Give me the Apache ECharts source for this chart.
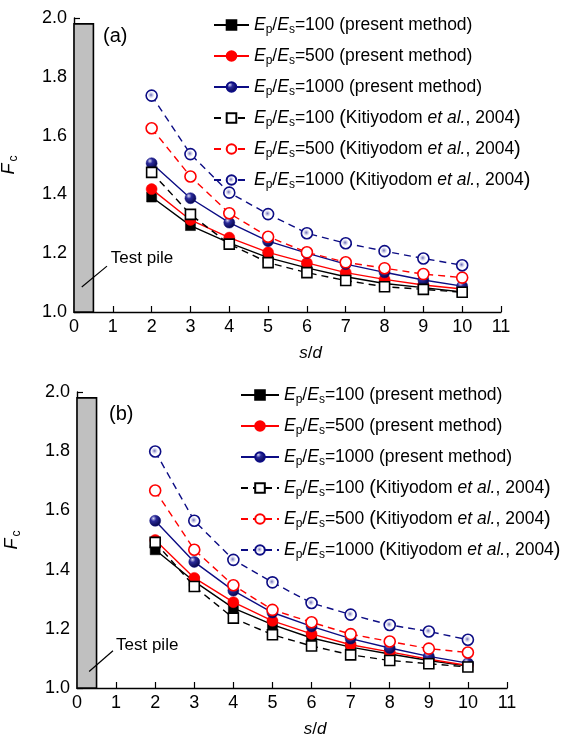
<!DOCTYPE html>
<html>
<head>
<meta charset="utf-8">
<script src="https://cdn.jsdelivr.net/npm/echarts@6/dist/echarts.min.js"></script>
<style>
  html, body { margin: 0; padding: 0; background: #fff; }
  #chart { width: 561px; height: 738px; }
</style>
</head>
<body>
<div id="chart"></div>
<script>
// s/d values
var sd = [2, 3, 4, 5, 6, 7, 8, 9, 10];
var xTicks = [0, 1, 2, 3, 4, 5, 6, 7, 8, 9, 10, 11];
var yTicks = ['1.0', '1.2', '1.4', '1.6', '1.8', '2.0'];

// panel (a)
var pm100a  = [1.391, 1.294, 1.235, 1.185, 1.150, 1.120, 1.097, 1.083, 1.068];
var pm500a  = [1.418, 1.313, 1.253, 1.203, 1.167, 1.134, 1.111, 1.092, 1.078];
var pm1000a = [1.506, 1.387, 1.304, 1.241, 1.200, 1.163, 1.135, 1.109, 1.088];
var k100a   = [1.475, 1.332, 1.231, 1.168, 1.134, 1.107, 1.086, 1.077, 1.067];
var k500a   = [1.625, 1.461, 1.336, 1.256, 1.203, 1.169, 1.149, 1.129, 1.117];
var k1000a  = [1.736, 1.537, 1.406, 1.333, 1.268, 1.234, 1.207, 1.182, 1.159];

// panel (b)
var pm100b  = [1.467, 1.360, 1.270, 1.214, 1.169, 1.138, 1.115, 1.093, 1.074];
var pm500b  = [1.500, 1.372, 1.290, 1.227, 1.183, 1.146, 1.122, 1.097, 1.076];
var pm1000b = [1.565, 1.426, 1.329, 1.255, 1.208, 1.167, 1.135, 1.107, 1.084];
var k100b   = [1.492, 1.343, 1.236, 1.180, 1.142, 1.112, 1.093, 1.082, 1.071];
var k500b   = [1.667, 1.467, 1.347, 1.264, 1.222, 1.182, 1.157, 1.133, 1.120];
var k1000b  = [1.799, 1.565, 1.433, 1.357, 1.287, 1.248, 1.213, 1.191, 1.163];

var legendLabels = [
  '{i|E}{sub|p}/{i|E}{sub|s}=100 (present method)',
  '{i|E}{sub|p}/{i|E}{sub|s}=500 (present method)',
  '{i|E}{sub|p}/{i|E}{sub|s}=1000 (present method)',
  '{i|E}{sub|p}/{i|E}{sub|s}=100 {p|(}Kitiyodom {i|et al.}, 2004{p|)}',
  '{i|E}{sub|p}/{i|E}{sub|s}=500 {p|(}Kitiyodom {i|et al.}, 2004{p|)}',
  '{i|E}{sub|p}/{i|E}{sub|s}=1000 {p|(}Kitiyodom {i|et al.}, 2004{p|)}'
];

// test pile box and arrow/label positions (data coords)
var pileBox = [[0, 1.0], [0.5, 1.98]];
var arrowA = [[0.2, 1.085], [0.85, 1.156]];
var labelA = [0.82, 1.184];
var arrowB = [[0.31, 1.056], [0.92, 1.126]];
var labelB = [0.87, 1.143];

var FONT = 'Liberation Sans, Arial, sans-serif';
var BLUE = '#0c0c84';

var ballFill = new echarts.graphic.RadialGradient(0.35, 0.3, 0.7, [
  { offset: 0, color: '#d8d8f4' },
  { offset: 0.35, color: '#2a2a9a' },
  { offset: 1, color: '#05054a' }
]);
var hollowBall = new echarts.graphic.RadialGradient(0.45, 0.45, 0.5, [
  { offset: 0, color: '#7070b8' },
  { offset: 0.3, color: '#d0d0ec' },
  { offset: 0.55, color: '#ffffff' },
  { offset: 1, color: '#ffffff' }
]);

function pts(arr) {
  return arr.map(function (v, i) { return [sd[i], v]; });
}

var styles = [
  { color: '#000', dash: 'solid', symbol: 'rect', size: 10, fill: '#000' },
  { color: '#ff0000', dash: 'solid', symbol: 'circle', size: 11, fill: '#ff0000' },
  { color: BLUE, dash: 'solid', symbol: 'circle', size: 11, fill: ballFill },
  { color: '#000', dash: [7, 5], symbol: 'rect', size: 10, fill: '#fff' },
  { color: '#ff0000', dash: [7, 5], symbol: 'circle', size: 11, fill: '#fff' },
  { color: BLUE, dash: [7, 5], symbol: 'circle', size: 11, fill: hollowBall }
];

function makeSeries(prefix, gi, arrays, arrow, label) {
  return arrays.map(function (arr, k) {
    var st = styles[k];
    var s = {
      name: prefix + k,
      type: 'line',
      xAxisIndex: gi,
      yAxisIndex: gi,
      data: pts(arr),
      symbol: st.symbol,
      symbolSize: st.size,
      showAllSymbol: true,
      animation: false,
      z: 3 + k,
      lineStyle: { color: st.color, width: 1.4, type: st.dash },
      itemStyle: {
        color: st.fill,
        borderColor: st.color,
        borderWidth: k >= 3 ? 1.6 : 0.5
      }
    };
    if (k === 0) {
      s.markArea = {
        silent: true,
        itemStyle: { color: '#c0c0c0', borderColor: '#000', borderWidth: 1.6 },
        data: [[{ coord: pileBox[0] }, { coord: pileBox[1] }]]
      };
      s.markLine = {
        silent: true,
        symbol: ['none', 'arrow'],
        symbolSize: [0, 8],
        label: { show: false },
        lineStyle: { color: '#000', width: 1.2, type: 'solid' },
        data: [[{ coord: arrow[0] }, { coord: arrow[1] }]]
      };
      s.markPoint = {
        silent: true,
        symbol: 'circle',
        symbolSize: 0,
        label: {
          show: true, position: 'right', distance: 5,
          formatter: 'Test pile', color: '#000', fontSize: 17, fontFamily: FONT
        },
        data: [{ coord: label }]
      };
    }
    return s;
  });
}

var seriesA = makeSeries('a', 0, [pm100a, pm500a, pm1000a, k100a, k500a, k1000a], arrowA, labelA);
var seriesB = makeSeries('b', 1, [pm100b, pm500b, pm1000b, k100b, k500b, k1000b], arrowB, labelB);

var legendRich = {
  i: { fontStyle: 'italic', fontSize: 17.5, lineHeight: 22, verticalAlign: 'middle', fontFamily: FONT },
  sub: { fontSize: 12, lineHeight: 12, verticalAlign: 'bottom', padding: [14, 0, 0, 0], fontFamily: FONT },
  p: { fontSize: 20, lineHeight: 22, verticalAlign: 'middle', fontFamily: FONT }
};

function makeLegend(prefix, left, top, w) {
  return {
    orient: 'vertical',
    left: left,
    top: top,
    itemWidth: w,
    itemHeight: 12,
    itemGap: 5,
    selectedMode: false,
    data: [0, 1, 2, 3, 4, 5].map(function (k) { return prefix + k; }),
    formatter: function (name) { return legendLabels[+name.slice(1)]; },
    textStyle: { fontSize: 17.5, lineHeight: 22, color: '#000', fontFamily: FONT, rich: legendRich }
  };
}

function xAx(gi) {
  return {
    gridIndex: gi, type: 'value', min: 0, max: 11, interval: 1,
    name: '{i|s}/{i|d}', nameLocation: 'middle', nameGap: 33,
    nameTextStyle: {
      fontSize: 17, color: '#000', fontFamily: FONT, padding: [0, 0, 0, 46],
      rich: { i: { fontStyle: 'italic', fontSize: 17, fontFamily: FONT } }
    },
    axisLine: { show: true, lineStyle: { color: '#000', width: 1.4 } },
    axisTick: { show: true, inside: true, length: 6, lineStyle: { color: '#000', width: 1.2 } },
    axisLabel: {
      color: '#000', fontSize: 18, fontFamily: FONT, margin: 6,
      formatter: function (v) { return String(xTicks[v]); }
    },
    splitLine: { show: false }
  };
}

function yAx(gi) {
  return {
    gridIndex: gi, type: 'value', min: 1.0, max: 2.0, interval: 0.2,
    name: '{i|F}{sub|c}', nameLocation: 'middle', nameRotate: 90, nameGap: 54,
    nameTextStyle: {
      color: '#000', fontFamily: FONT,
      rich: {
        i: { fontStyle: 'italic', fontSize: 18, lineHeight: 22, verticalAlign: 'middle', fontFamily: FONT },
        sub: { fontSize: 12, lineHeight: 12, verticalAlign: 'bottom', padding: [12, 0, 0, 2], fontFamily: FONT }
      }
    },
    axisLine: { show: true, lineStyle: { color: '#000', width: 1.4 } },
    axisTick: { show: true, inside: true, length: 6, lineStyle: { color: '#000', width: 1.2 } },
    axisLabel: {
      color: '#000', fontSize: 18, fontFamily: FONT, margin: 7,
      formatter: function (v) { return yTicks[Math.round((v - 1) / 0.2)]; }
    },
    splitLine: { show: false }
  };
}

var chart = echarts.init(document.getElementById('chart'));
chart.setOption({
  backgroundColor: '#fff',
  animation: false,
  title: [
    { text: '(a)', left: 98, top: 21, textStyle: { fontSize: 20, fontWeight: 'normal', color: '#000', fontFamily: FONT } },
    { text: '(b)', left: 104, top: 399, textStyle: { fontSize: 20, fontWeight: 'normal', color: '#000', fontFamily: FONT } }
  ],
  legend: [makeLegend('a', 208, 5, 35), makeLegend('b', 235, 375, 38)],
  grid: [
    { left: 74, top: 18, width: 427, height: 294, outerBoundsMode: 'none' },
    { left: 77, top: 392, width: 430, height: 296, outerBoundsMode: 'none' }
  ],
  xAxis: [xAx(0), xAx(1)],
  yAxis: [yAx(0), yAx(1)],
  series: seriesA.concat(seriesB)
});
</script>
</body>
</html>
